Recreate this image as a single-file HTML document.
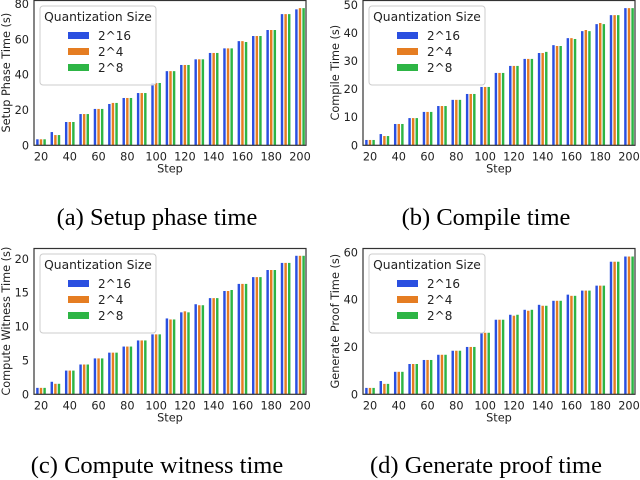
<!DOCTYPE html>
<html><head><meta charset="utf-8">
<style>
body{margin:0;background:#fff;}
svg{display:block;font-family:"DejaVu Sans","Liberation Sans",sans-serif;}
.cap{font-family:"Liberation Serif",serif;font-size:24.5px;}
</style></head>
<body>
<svg id="fig" width="640" height="480" viewBox="0 0 640 480"></svg>
<script>
const steps=[20,30,40,50,60,70,80,90,100,110,120,130,140,150,160,170,180,190,200];
const seriesNames=["2^16","2^4","2^8"];
const xTicks=[20,40,60,80,100,120,140,160,180,200];
const setupBlue=[3.4,7.5,13.2,17.7,20.6,23.4,26.8,29.6,35.3,42,45.5,48.7,52.3,54.9,59,61.9,65.3,74.3,77];
const setupOrange=[3.4,5.8,13.2,17.7,20.6,24,26.8,29.6,35.3,42,45.5,48.7,52.3,54.9,59,61.9,65.3,74.3,77.7];
const setupGreen=[3.4,5.8,13.2,17.7,20.6,24,26.8,29.6,35.3,42,45.5,48.7,52.3,54.9,58.5,61.9,65.3,74.3,77.7];
const setupTicks=[0,20,40,60,80];
const compileBlue=[1.9,4.0,7.6,9.7,11.9,14,16.2,18.3,20.8,25.8,28.3,30.8,32.9,35.7,38.2,40.7,43.2,46.4,48.9];
const compileOrange=[1.9,3.3,7.6,9.7,11.9,14,16.2,18.3,20.8,25.8,28.3,30.8,32.9,35.4,38.2,41.1,43.6,46.4,48.9];
const compileGreen=[1.9,3.3,7.6,9.7,11.9,14,16.2,18.3,20.8,25.8,28.3,30.8,33.3,35.4,37.9,40.7,43.2,46.4,48.9];
const compileTicks=[0,10,20,30,40,50];
const witnessBlue=[0.95,1.85,3.5,4.4,5.3,6.15,7.05,7.95,8.85,11.2,12.1,13.3,14.2,15.25,16.3,17.3,18.35,19.4,20.45];
const witnessOrange=[0.95,1.55,3.5,4.4,5.3,6.15,7.05,7.95,8.85,11.05,12.25,13.15,14.2,15.25,16.3,17.3,18.35,19.4,20.45];
const witnessGreen=[0.95,1.55,3.5,4.4,5.3,6.15,7.05,7.95,8.85,11.05,12.1,13.15,14.2,15.4,16.3,17.3,18.35,19.4,20.45];
const witnessTicks=[0,5,10,15,20];
const proofBlue=[2.7,5.6,9.5,12.8,14.5,16.7,18.4,20,26,31.5,33.6,35.7,37.8,39.5,42.1,43.8,45.9,56,58.2];
const proofOrange=[2.7,4.4,9.5,12.8,14.5,16.7,18.4,20,26,31.5,33.2,35.3,37.4,39.5,41.6,43.8,45.9,56,58.2];
const proofGreen=[2.7,4.4,9.5,12.8,14.5,16.7,18.4,20,26,31.5,33.6,35.7,37.4,39.5,41.6,43.8,45.9,56,58.2];
const proofTicks=[0,20,40,60];

const colors=["#2a4fe0","#e57d22","#2db545"];
const NS="http://www.w3.org/2000/svg";
const fig=document.getElementById('fig');
function mk(tag,attrs,parent){const e=document.createElementNS(NS,tag);for(const k in attrs)e.setAttribute(k,attrs[k]);(parent||fig).appendChild(e);return e;}

const panels=[
 {key:"setup",L:34,R:306,T:0,B:145.3,ymax:82.3,ticks:setupTicks,data:[setupBlue,setupOrange,setupGreen],ylab:"Setup Phase Time (s)",cap:"(a) Setup phase time",capY:225,leg:[40,6]},
 {key:"compile",L:363,R:635,T:0,B:145.3,ymax:51.8,ticks:compileTicks,data:[compileBlue,compileOrange,compileGreen],ylab:"Compile Time (s)",cap:"(b) Compile time",capY:225,leg:[369,6]},
 {key:"witness",L:34,R:306,T:248,B:394.3,ymax:21.6,ticks:witnessTicks,data:[witnessBlue,witnessOrange,witnessGreen],ylab:"Compute Witness Time (s)",cap:"(c) Compute witness time",capY:473,leg:[40,254]},
 {key:"proof",L:363,R:635,T:248,B:394.3,ymax:61.8,ticks:proofTicks,data:[proofBlue,proofOrange,proofGreen],ylab:"Generate Proof Time (s)",cap:"(d) Generate proof time",capY:473,leg:[369,254]}
];

panels.forEach(p=>{
  const g=mk('g',{});
  
  
  const x0=p.L+7,x1=p.R-6;
  const xs=s=>x0+(s-20)/180*(x1-x0);
  const ys=v=>p.B-v/p.ymax*(p.B-p.T);
  const sp=(x1-x0)/18;
  const bw=sp*0.17, off=sp*0.25;
  p.data.forEach((arr,si)=>{
    arr.forEach((v,i)=>{
      const cx=xs(steps[i])+(si-1)*off;
      const r=mk('rect',{x:(cx-bw/2).toFixed(2),y:ys(v).toFixed(2),width:bw.toFixed(2),height:(p.B-ys(v)).toFixed(2),fill:colors[si]},g);
      
      
    });
  });
  const fr=mk('rect',{x:p.L,y:p.T+0.5,width:p.R-p.L,height:p.B-p.T-0.5,fill:"none",stroke:"#333",'stroke-width':1.2},g);
  
  
  p.ticks.forEach(t=>{
    const tx=mk('text',{x:p.L-5,y:ys(t)+4,'text-anchor':'end','font-size':11.3,fill:'#222'},g);
    tx.textContent=t;
    
    
  });
  xTicks.forEach(t=>{
    const tx=mk('text',{x:xs(t),y:p.B+15,'text-anchor':'middle','font-size':11.3,fill:'#222'},g);
    tx.textContent=t;
    
    
  });
  const xl=mk('text',{x:(p.L+p.R)/2,y:p.B+27,'text-anchor':'middle','font-size':11.3,fill:'#222'},g);
  xl.textContent="Step";
  
  
  const yc=(p.T+p.B)/2;
  const yl=mk('text',{x:p.L-24,y:yc,'text-anchor':'middle','font-size':11.3,fill:'#222',transform:`rotate(-90 ${p.L-24} ${yc})`},g);
  yl.textContent=p.ylab;
  
  
  const [lx,ly]=p.leg;
  const lg=mk('g',{},g);
  
  
  mk('rect',{x:lx,y:ly,width:116,height:79,rx:3,fill:'#fff','fill-opacity':0.85,stroke:'#ccc','stroke-width':1},lg);
  const lt=mk('text',{x:lx+58,y:ly+15,'text-anchor':'middle','font-size':12.3,fill:'#222'},lg);
  lt.textContent="Quantization Size";
  
  
  seriesNames.forEach((n,si)=>{
    const yy=ly+26+si*16;
    const e=mk('g',{},lg);
    
    
    mk('rect',{x:lx+28,y:yy,width:21,height:7,fill:colors[si]},e);
    const et=mk('text',{x:lx+58,y:yy+8,'font-size':12,fill:'#222'},e);
    et.textContent=n;
  });
  const cp=mk('text',{x:(p.L+p.R)/2-13,y:p.capY,'text-anchor':'middle',class:'cap',fill:'#000'});
  cp.textContent=p.cap;
  
  
});
</script>
</body></html>
